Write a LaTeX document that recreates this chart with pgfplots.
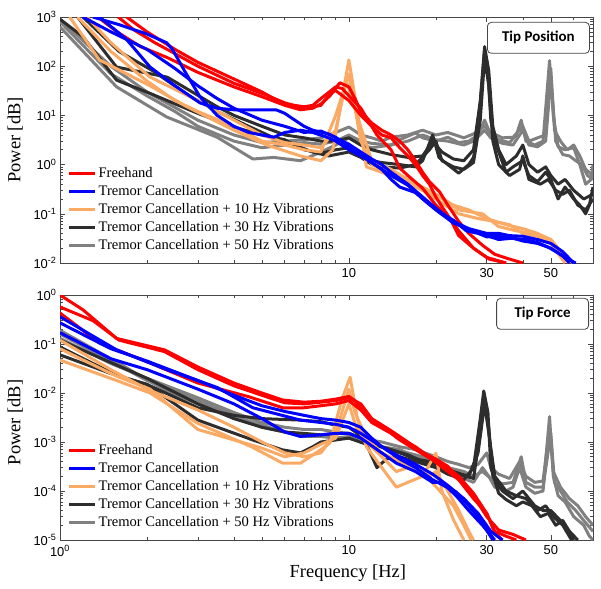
\documentclass[border=0pt]{standalone}
\usepackage{pgfplots}
\pgfplotsset{compat=1.18}
\usepackage{fontspec}
\setmainfont{Liberation Serif}
\setsansfont{Liberation Sans}
\newfontfamily\calib{Carlito}
\definecolor{cRed}{RGB}{255,0,0}
\definecolor{cBlue}{RGB}{0,0,255}
\definecolor{cOrange}{RGB}{250,170,100}
\definecolor{cBlack}{RGB}{45,45,45}
\definecolor{cGray}{RGB}{128,128,128}
\definecolor{frame}{RGB}{70,70,70}
\begin{document}
\begin{tikzpicture}
%================ TOP: Tip Position =================
\begin{axis}[xmode=log, ymode=log, scale only axis, width=533bp,
  xmin=1, xmax=70,
  axis line style={draw=frame, line width=0.8pt},
  tick align=inside, every tick/.style={frame, line width=0.6pt},
  major tick length=5bp, minor tick length=3bp,
  ticklabel style={font=\fontsize{13}{13}\selectfont\sffamily},
  xticklabel style={yshift=-2bp},
  ylabel={Power [dB]},
  ylabel style={font=\fontsize{18.5}{18.5}\selectfont, at={(axis description cs:-0.084,0.5)}, anchor=center},
  legend style={at={(0.008,0.025)}, anchor=south west, draw=none, fill=none,
    font=\fontsize{14.6}{14.6}\selectfont, nodes={text height=10.5bp, text depth=3.5bp, inner sep=2bp}},
  legend cell align=left,
  legend image code/.code={\draw[line width=3.2pt] (0bp,0bp) -- (26bp,0bp);},
  every axis plot/.append style={line width=3pt, line join=round},
  at={(0,0)}, anchor=north west, height=246bp,
  ymin=1e-2, ymax=1e3,
  ytick={1e-2,1e-1,1,10,100,1000},
  yticklabels={10\textsuperscript{-2},10\textsuperscript{-1},10\textsuperscript{0},10\textsuperscript{1},10\textsuperscript{2},10\textsuperscript{3}},
  xtick={10,30,50}, xticklabels={10,30,50},
  minor xtick={2,3,4,5,6,7,8,9,20,40,60,70},
]
% gray (50 Hz)
\addplot[cGray,forget plot] coordinates {(1,630)(1.57,38)(2.34,9.3)(3.5,3.6)(4.65,1.3)(5.5,1.4)(6.8,1.2)(8,1.8)(9,2.5)(10,3.5)(11,2.5)(12,2.2)(14,2.5)(15,3.2)(17,4.4)(18,3.5)(20,3)(22,3.6)(24,2.8)(26,3)(28,4)(29.5,8)(31,4)(33,3.2)(36,2.8)(38,4)(39.5,8)(41,3)(44,2.5)(47,3)(49.5,130)(51,10)(53,2.3)(56,2)(60,2.2)(63,1)(66,0.4)(69,0.5)(70,1)};
\addplot[cGray,forget plot] coordinates {(1,900)(1.5,100)(2,30)(3,8)(4,4)(5,2.8)(6,3)(7,3.2)(8,3.5)(9,4.5)(10,5.8)(11,4)(12,3.5)(13,3)(14,3.6)(16,4)(18,5)(20,4)(22,4.5)(25,3.5)(27,4.2)(29.5,6)(31,4.5)(34,3.5)(37,3.6)(40,6)(42,3)(45,3.5)(48,4)(50,90)(51.5,5)(54,3)(57,2)(60,2.5)(63,1.5)(66,0.8)(70,0.6)};
\addplot[cGray,forget plot] coordinates {(1,800)(1.5,70)(2,25)(2.5,12)(3,6)(4,3)(5,2.2)(6,2.5)(7,2.8)(8,2.6)(9,3)(10,4)(11,3)(12,2.7)(14,2.5)(16,3)(18,4)(20,3.2)(22,3)(25,2.5)(27,3)(29.5,5)(31,3.5)(34,2.7)(37,2.5)(40,5)(42,2.5)(45,2.3)(48,3)(50,60)(52,3)(55,1.6)(58,1.5)(61,1.2)(64,1)(67,0.6)(70,0.5)};
% black (30 Hz)
\addplot[cBlack,forget plot] coordinates {(1,900)(1.2,400)(1.57,52)(2.05,28)(3,11)(4,5.8)(5,4)(6,3.2)(7,2)(8,1.7)(9,2)(10,2.2)(11,1.5)(12,1.2)(13,1.1)(15,1)(17,0.9)(18,1.2)(19.5,4)(20.5,1.4)(22,1)(24,0.67)(26,1)(27,1.4)(28,5)(29,60)(29.5,210)(30.2,100)(31,8)(32,3)(35,0.7)(37,0.9)(40,1.2)(42,0.6)(45,0.45)(48,0.7)(50,0.5)(53,0.2)(56,0.35)(60,0.2)(63,0.15)(66,0.1)(68,0.15)(70,0.35)};
\addplot[cBlack,forget plot] coordinates {(1.15,1000)(1.57,96)(2.35,60)(3.5,15)(4,10)(5,6)(6,4)(7,3.5)(8,3)(9,3)(10,3.5)(11,2.5)(12,2)(14,1.6)(16,1.4)(18,1.5)(19.5,3)(21,1.8)(23,1.3)(25,1.2)(27,2)(28.5,20)(29.5,250)(30.5,80)(31.5,6)(33,2)(35,1)(38,1.5)(40,2.5)(42,1)(45,0.7)(48,0.9)(50,0.6)(53,0.4)(56,0.5)(60,0.3)(65,0.2)(70,0.25)};
\addplot[cBlack,forget plot] coordinates {(1.2,1000)(1.6,200)(2.1,80)(2.8,25)(3.5,12)(4.5,6)(5.5,3.5)(6.5,2.5)(7.5,1.8)(8.5,1.5)(10,1.8)(11,1.4)(12,1)(13,0.9)(15,0.85)(17,1)(19,2)(20,3)(21,1.2)(23,0.9)(25,0.8)(27,1.1)(28.5,8)(29.5,150)(30.5,40)(31.5,3)(33,1)(36,0.6)(39,0.8)(40,1.5)(42,0.5)(46,0.4)(49,0.5)(52,0.3)(55,0.25)(58,0.3)(62,0.15)(66,0.12)(70,0.2)};
% orange (10 Hz)
\addplot[cOrange,forget plot] coordinates {(1.08,1000)(1.37,134)(2.05,40)(2.75,15)(4,5)(5.2,2.5)(6.8,1.5)(8,1.2)(8.8,2)(10,134)(11.5,0.9)(13,0.7)(15,0.5)(18,0.3)(20.6,0.22)(24,0.12)(29,0.1)(33,0.055)(38,0.045)(43,0.04)(50,0.03)(57,0.012)(60,0.01)};
\addplot[cOrange,forget plot] coordinates {(1.24,1000)(1.5,300)(2.05,60)(3,20)(4,8)(5,4)(6,2.8)(7,2.5)(8,2.2)(9,5)(9.8,50)(10.8,8)(12,1.2)(14,0.8)(16,0.5)(18,0.35)(20,0.25)(23,0.15)(26,0.12)(30,0.08)(35,0.06)(40,0.05)(45,0.04)(50,0.03)(55,0.015)(58,0.01)};
\addplot[cOrange,forget plot] coordinates {(1.15,1000)(1.5,200)(2,50)(2.5,20)(3,12)(4,6)(5,3)(6,2.5)(7,2)(8,1.8)(9,10)(10,70)(11,3)(12,1)(14,0.6)(16,0.45)(18,0.3)(20,0.2)(24,0.1)(28,0.08)(32,0.07)(36,0.06)(40,0.04)(45,0.035)(50,0.025)(56,0.01)};
% red (freehand)
\addplot[cRed,forget plot] coordinates {(1.35,1000)(1.6,470)(1.9,250)(2.35,150)(3,75)(4,38)(5,24)(6,16)(6.8,13)(7.5,14)(8,17)(8.6,25)(9.3,46)(10,38)(10.5,22)(11,12)(12,7)(13,5)(14,4)(15,3)(16,2)(17,1.2)(18,0.7)(19,0.45)(20.6,0.28)(22,0.15)(24,0.07)(26,0.04)(29,0.023)(32,0.015)(36,0.012)(40,0.01)};
\addplot[cRed,forget plot] coordinates {(1.59,1000)(1.8,550)(2.13,300)(2.5,180)(3,100)(4,45)(5,28)(6,18)(7,14)(8,16)(8.6,28)(9,32)(10,20)(11,10)(12,6)(13,4)(14,3.5)(15,2.2)(16,1.5)(17,1)(18,0.6)(19,0.4)(20,0.22)(21,0.14)(22.4,0.08)(24,0.045)(27,0.02)(30,0.013)(35,0.01)};
\addplot[cRed,forget plot] coordinates {(1.7,1000)(2,500)(2.5,220)(3,120)(4,55)(5,30)(5.5,22)(6,17)(7,15)(7.5,16)(8,22)(9,38)(9.5,35)(10,25)(11,14)(12,6)(12.5,4)(14,2)(15,0.85)(16,0.6)(18,0.33)(20,0.15)(22.4,0.08)(24,0.036)(27,0.02)(30.6,0.012)(35,0.01)};
% blue (tremor cancellation)
\addplot[cBlue,forget plot] coordinates {(1.3,1000)(1.6,700)(2,450)(2.34,300)(2.45,220)(2.7,80)(3.05,24)(3.5,10)(4,6)(4.5,4.5)(5,4)(5.5,3.6)(6,4.5)(6.8,5)(7.5,4.5)(8.4,3.6)(9,3)(10,2)(11,1.5)(12,1.1)(13,0.8)(14,0.5)(15,0.35)(17,0.27)(19.5,0.14)(21,0.1)(23,0.074)(25.5,0.045)(28,0.04)(30,0.034)(33,0.035)(36,0.032)(41,0.03)(45,0.026)(49,0.021)(53,0.016)(57,0.012)(61,0.01)};
\addplot[cBlue,forget plot] coordinates {(1.37,1000)(1.7,350)(2.05,96)(2.5,40)(3.05,18)(3.5,14)(4,13)(5,13)(5.6,13)(6,11)(6.5,8)(7,6)(7.5,5)(8.5,4.2)(9,3.5)(10,2.6)(11,1.8)(12,1.3)(13,1)(14,0.7)(16,0.4)(18,0.22)(20,0.13)(23,0.07)(26,0.05)(30,0.04)(33,0.04)(36,0.036)(40,0.035)(45,0.03)(50,0.025)(55,0.017)(60,0.01)};
\addplot[cBlue,forget plot] coordinates {(1.2,1000)(1.5,500)(2,220)(2.5,90)(3,40)(3.5,22)(4,14)(5,8)(6,6)(7,4.5)(8,4.8)(9,3.6)(10,2.3)(11,1.6)(12,1.1)(14,0.6)(16,0.38)(18,0.2)(20,0.12)(23,0.065)(27,0.045)(30,0.036)(33,0.03)(37,0.032)(40,0.028)(45,0.025)(50,0.02)(55,0.014)(58,0.01)};
\addlegendimage{cRed}\addlegendentry{Freehand}
\addlegendimage{cBlue}\addlegendentry{Tremor Cancellation}
\addlegendimage{cOrange}\addlegendentry{Tremor Cancellation + 10 Hz Vibrations}
\addlegendimage{cBlack}\addlegendentry{Tremor Cancellation + 30 Hz Vibrations}
\addlegendimage{cGray}\addlegendentry{Tremor Cancellation + 50 Hz Vibrations}
\node[draw=frame, rounded corners=4bp, fill=white, line width=0.8pt, font=\calib\bfseries\fontsize{15}{15}\selectfont, minimum width=102bp, minimum height=31bp, anchor=north east] at (rel axis cs:0.994,0.98) {Tip Position};
\end{axis}
%================ BOTTOM: Tip Force =================
\begin{axis}[xmode=log, ymode=log, scale only axis, width=533bp,
  xmin=1, xmax=70,
  axis line style={draw=frame, line width=0.8pt},
  tick align=inside, every tick/.style={frame, line width=0.6pt},
  major tick length=5bp, minor tick length=3bp,
  ticklabel style={font=\fontsize{13}{13}\selectfont\sffamily},
  xticklabel style={yshift=-2bp},
  ylabel={Power [dB]},
  ylabel style={font=\fontsize{18.5}{18.5}\selectfont, at={(axis description cs:-0.084,0.48)}, anchor=center},
  legend style={at={(0.008,0.025)}, anchor=south west, draw=none, fill=none,
    font=\fontsize{14.6}{14.6}\selectfont, nodes={text height=10.5bp, text depth=3.5bp, inner sep=2bp}},
  legend cell align=left,
  legend image code/.code={\draw[line width=3.2pt] (0bp,0bp) -- (26bp,0bp);},
  every axis plot/.append style={line width=3pt, line join=round},
  at={(0,-278bp)}, anchor=north west, height=245bp,
  ymin=1e-5, ymax=1,
  ytick={1e-5,1e-4,1e-3,1e-2,1e-1,1},
  yticklabels={10\textsuperscript{-5},10\textsuperscript{-4},10\textsuperscript{-3},10\textsuperscript{-2},10\textsuperscript{-1},10\textsuperscript{0}},
  xtick={1,10,30,50}, xticklabels={10\textsuperscript{0},10,30,50},
  minor xtick={2,3,4,5,6,7,8,9,20,40,60,70},
  xlabel={Frequency [Hz]},
  xlabel style={font=\fontsize{18.5}{18.5}\selectfont, at={(axis description cs:0.54,0)}, yshift=-33bp, anchor=center},
]
% gray
\addplot[cGray,forget plot] coordinates {(1,0.19)(1.5,0.05)(2.34,0.011)(3,0.006)(4.65,0.0025)(6.8,0.0013)(8,0.0013)(9,0.0012)(10,0.0013)(11,0.001)(13,0.0008)(15,0.0007)(17,0.0005)(19.5,0.00037)(22,0.00023)(25,0.00018)(27,0.00015)(29,0.0003)(30.5,0.0002)(32,0.00012)(35,0.0001)(37,0.00012)(39,0.0003)(41,0.00012)(44,9e-5)(47,0.0001)(49.5,0.0033)(51,0.0002)(53,8e-5)(56,6e-5)(60,3e-5)(65,2e-5)(68,1.2e-5)(70,1e-5)};
\addplot[cGray,forget plot] coordinates {(1,0.13)(1.5,0.04)(2,0.02)(3,0.008)(4,0.004)(5,0.0025)(6,0.002)(7,0.0018)(8,0.0018)(9,0.0016)(10,0.0015)(11,0.0012)(13,0.001)(15,0.0008)(17,0.0007)(20,0.0005)(22,0.0004)(24,0.00035)(26,0.0003)(28,0.00035)(30,0.0006)(31,0.0003)(33,0.00022)(36,0.00018)(39,0.0004)(41,0.0002)(44,0.00015)(47,0.00016)(49.5,0.002)(51,0.00025)(54,0.00012)(58,7e-5)(62,5e-5)(66,3e-5)(70,2e-5)};
\addplot[cGray,forget plot] coordinates {(1,0.16)(1.5,0.045)(2,0.018)(3,0.007)(4,0.0035)(5,0.002)(6,0.0016)(7,0.0014)(8,0.0013)(10,0.0012)(12,0.0009)(14,0.0007)(16,0.0006)(18,0.0005)(20,0.0004)(22,0.0003)(25,0.00025)(27,0.0002)(29,0.00025)(31,0.00018)(34,0.00014)(37,0.00015)(39.5,0.0005)(41,0.00015)(44,0.00012)(47,0.00012)(50,0.0015)(51.5,0.00015)(54,0.0001)(57,6e-5)(61,4e-5)(65,2.5e-5)(70,1.5e-5)};
% black
\addplot[cBlack,forget plot] coordinates {(1,0.087)(1.3,0.04)(1.6,0.022)(2,0.015)(3,0.0028)(4.65,0.0011)(5.9,0.00069)(6.8,0.0006)(7.5,0.0008)(8,0.001)(9,0.0011)(10,0.0012)(11.5,0.0009)(12.5,0.0003)(13.5,0.00045)(15,0.0005)(17,0.0004)(20,0.0003)(22,0.00022)(25,0.00017)(27,0.0003)(28.5,0.003)(29.3,0.011)(30.3,0.004)(31,0.0003)(33,9e-5)(35,6.7e-5)(38,5e-5)(40,6e-5)(43,5e-5)(46,3e-5)(49,3.5e-5)(52,2e-5)(55,2.5e-5)(58,1.5e-5)(62,1e-5)};
\addplot[cBlack,forget plot] coordinates {(1,0.06)(1.5,0.025)(2,0.015)(3,0.005)(4,0.0035)(5,0.003)(6.8,0.0028)(8,0.0026)(9,0.0022)(10,0.002)(11.5,0.0011)(13,0.0008)(15,0.0006)(17,0.00045)(19,0.0004)(21,0.0003)(24,0.00022)(27,0.00018)(28.5,0.0015)(29.5,0.008)(30.5,0.002)(31.5,0.0002)(34,0.0001)(37,7e-5)(40,0.0001)(44,5e-5)(47,4e-5)(50,4e-5)(54,2.5e-5)(58,1.5e-5)(60,1e-5)};
\addplot[cBlack,forget plot] coordinates {(1,0.12)(1.4,0.05)(2,0.02)(3,0.006)(4,0.003)(5,0.002)(6,0.0016)(7,0.0015)(8,0.0014)(9,0.0015)(10,0.0015)(11,0.0012)(12,0.0009)(14,0.0007)(16,0.00055)(18,0.0004)(20,0.00035)(23,0.00025)(26,0.0002)(28,0.0006)(29.5,0.006)(30.5,0.0015)(32,0.0002)(35,0.0001)(38,8e-5)(41,7e-5)(45,4e-5)(48,5e-5)(51,3e-5)(55,2e-5)(59,1e-5)};
% orange
\addplot[cOrange,forget plot] coordinates {(1,0.047)(1.57,0.018)(2.05,0.01)(3,0.0024)(4.6,0.0008)(5.9,0.00037)(6.8,0.00037)(8,0.0007)(8.6,0.00095)(9.5,0.008)(10.1,0.021)(10.7,0.003)(11.5,0.0008)(13,0.0003)(14.6,0.00012)(16,0.00015)(18,0.0002)(20,0.00059)(21,0.0001)(23,2.6e-5)(25,1e-5)};
\addplot[cOrange,forget plot] coordinates {(1,0.12)(1.5,0.03)(2,0.012)(3,0.0045)(4,0.002)(5,0.001)(6,0.0006)(7,0.0005)(8,0.0006)(9,0.0015)(10,0.012)(10.5,0.004)(11.5,0.0012)(13,0.0006)(15,0.0004)(17,0.0003)(19,0.0002)(20,0.00025)(22,0.0001)(24,4e-5)(26,1.5e-5)(27,1e-5)};
\addplot[cOrange,forget plot] coordinates {(1,0.08)(1.57,0.022)(2.05,0.012)(3,0.0018)(4,0.0011)(5,0.00075)(6,0.0005)(7,0.0006)(8,0.0009)(9,0.0012)(10,0.006)(10.6,0.002)(11.5,0.001)(13,0.0005)(14.6,0.00025)(16,0.0003)(17,0.00025)(19,0.00017)(21,9e-5)(23,5e-5)(25,2e-5)(26.5,1e-5)};
% red
\addplot[cRed,forget plot] coordinates {(1,1.0)(1.2,0.5)(1.57,0.13)(2.3,0.076)(3,0.034)(4,0.016)(5,0.01)(5.9,0.0072)(7,0.0065)(8,0.0068)(9,0.0075)(10,0.0085)(10.5,0.007)(11.5,0.0035)(13,0.002)(15,0.0012)(17,0.0008)(19.5,0.00045)(22,0.0003)(24,0.0002)(27,9e-5)(30,3.5e-5)(32,1.5e-5)(35,1.2e-5)(38,1e-5)};
\addplot[cRed,forget plot] coordinates {(1,0.57)(1.3,0.3)(1.6,0.12)(2.3,0.07)(3,0.03)(4,0.014)(5,0.009)(6,0.0063)(7,0.006)(8,0.0065)(9,0.007)(10,0.008)(11,0.006)(12,0.003)(14,0.0017)(16,0.001)(18,0.0006)(20,0.00045)(22,0.00032)(24,0.00017)(27,8e-5)(30,3e-5)(33,1.6e-5)(37,1.3e-5)(41,1e-5)};
\addplot[cRed,forget plot] coordinates {(1,0.43)(1.37,0.105)(2.05,0.041)(3,0.016)(4.5,0.0084)(5.9,0.005)(7,0.005)(8,0.0055)(9,0.006)(10,0.007)(11,0.0045)(12,0.0025)(14,0.0015)(15,0.0011)(17,0.0007)(19.5,0.00043)(22,0.00025)(24,0.00017)(27,7e-5)(30,3.5e-5)(32,1.4e-5)(34,1e-5)};
% blue
\addplot[cBlue,forget plot] coordinates {(1,0.36)(1.57,0.076)(2.34,0.03)(3.5,0.013)(4.65,0.005)(6.8,0.0028)(8,0.0025)(9,0.0023)(10,0.002)(11,0.0015)(13,0.0008)(15,0.00045)(17,0.0003)(19.5,0.00017)(23.5,9.5e-5)(26,5e-5)(28,3e-5)(31.5,1e-5)};
\addplot[cBlue,forget plot] coordinates {(1,0.27)(1.5,0.08)(2,0.045)(3,0.018)(4,0.009)(5,0.0055)(6,0.0042)(7,0.0035)(8,0.003)(9,0.0028)(10,0.0025)(11,0.002)(12,0.0012)(13,0.0008)(15,0.0005)(17,0.00035)(19.5,0.00022)(22,0.00013)(25,7e-5)(28,3.5e-5)(31,1.5e-5)(34,1e-5)};
\addplot[cBlue,forget plot] coordinates {(1,0.17)(1.5,0.05)(2,0.03)(3,0.012)(4,0.006)(5,0.003)(6,0.0016)(6.8,0.0013)(8,0.0014)(9,0.0015)(10,0.0015)(11,0.0012)(13,0.0006)(14.6,0.00037)(17,0.00025)(19.5,0.00015)(21,0.00015)(23.5,8e-5)(26,4e-5)(29,2e-5)(32,1e-5)};
\addlegendimage{cRed}\addlegendentry{Freehand}
\addlegendimage{cBlue}\addlegendentry{Tremor Cancellation}
\addlegendimage{cOrange}\addlegendentry{Tremor Cancellation + 10 Hz Vibrations}
\addlegendimage{cBlack}\addlegendentry{Tremor Cancellation + 30 Hz Vibrations}
\addlegendimage{cGray}\addlegendentry{Tremor Cancellation + 50 Hz Vibrations}
\node[draw=frame, rounded corners=4bp, fill=white, line width=0.8pt, font=\calib\bfseries\fontsize{15}{15}\selectfont, minimum width=92bp, minimum height=31bp, anchor=north east] at (rel axis cs:0.9925,0.988) {Tip Force};
\end{axis}
\pgfresetboundingbox
\path (-60bp,17bp) rectangle (541bp,-572bp);
\end{tikzpicture}
\end{document}
